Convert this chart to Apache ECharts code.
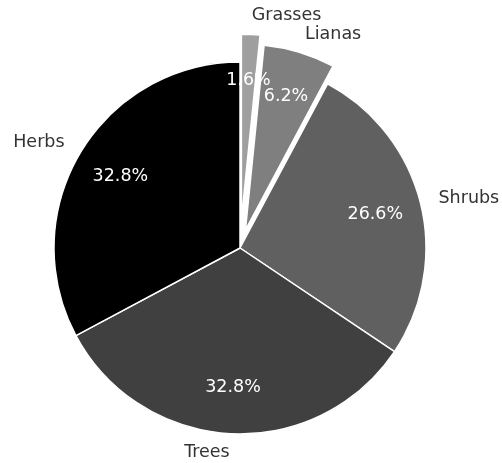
<!DOCTYPE html>
<html>
<head>
<meta charset="utf-8">
<script src="https://cdn.jsdelivr.net/npm/echarts@6/dist/echarts.min.js"></script>
<style>
  html, body { margin: 0; padding: 0; background: #fff; }
  #chart { width: 502px; height: 463px; }
</style>
</head>
<body>
<div id="chart"></div>
<script>
const categories = ["Grasses", "Lianas", "Shrubs", "Trees", "Herbs"];
const shares = [1.6, 6.2, 26.6, 32.8, 32.8];
const colors = ["#9f9f9f", "#7f7f7f", "#606060", "#404040", "#000000"];
// how far each slice is pulled out, as a fraction of the radius
const explode = [0.15, 0.1, 0, 0, 0];

const cx = 240;
const cy = 248;
const r = 186;
const font = "DejaVu Sans";

const total = shares.reduce((a, b) => a + b, 0);

// one pair of series (wedge + percent label) per explode distance
const groups = [...new Set(explode)];
const series = [];

groups.forEach(off => {
  const idx = categories.map((c, i) => i).filter(i => explode[i] === off);
  // shift the centre along the middle angle of the slice that belongs here
  let center = [cx, cy];
  if (off > 0) {
    const i = idx[0];
    const before = shares.slice(0, i).reduce((a, b) => a + b, 0);
    const mid = (90 - 360 * (before + shares[i] / 2) / total) * Math.PI / 180;
    center = [cx + off * r * Math.cos(mid), cy - off * r * Math.sin(mid)];
  }

  series.push({
    type: "pie",
    center: center,
    radius: [0, r],
    startAngle: 90,
    clockwise: true,
    avoidLabelOverlap: false,
    silent: true,
    label: {
      position: "outside",
      distanceToLabelLine: 0,
      fontFamily: font,
      fontSize: 17.5,
      color: "#333",
    },
    labelLine: { show: false, length: r * 0.1, length2: 0 },
    data: categories.map((name, i) => {
      const mine = idx.includes(i);
      return {
        name: name,
        value: shares[i],
        itemStyle: mine
          ? { color: colors[i], borderColor: "#fff", borderWidth: 1.5 }
          : { color: "rgba(0,0,0,0)", borderWidth: 0 },
        label: { show: mine },
      };
    }),
  });

  // percent labels: outside labels of a smaller invisible pie, so they land
  // at 0.75 r and are never hidden for not fitting in a thin wedge
  series.push({
    type: "pie",
    center: center,
    radius: [0, r * 0.65],
    startAngle: 90,
    clockwise: true,
    avoidLabelOverlap: false,
    silent: true,
    z: 3,
    itemStyle: { color: "rgba(0,0,0,0)", borderWidth: 0 },
    label: {
      position: "outside",
      distanceToLabelLine: 0,
      fontFamily: font,
      fontSize: 17.5,
      color: "#fff",
      formatter: p => p.value.toFixed(1) + "%",
    },
    labelLine: { show: false, length: r * 0.1, length2: 0 },
    labelLayout: () => ({ align: "center", verticalAlign: "middle" }),
    data: categories.map((name, i) => ({
      name: name,
      value: shares[i],
      label: { show: idx.includes(i) },
    })),
  });
});

const chart = echarts.init(document.getElementById("chart"));
chart.setOption({
  animation: false,
  backgroundColor: "#fff",
  series: series,
});
</script>
</body>
</html>
